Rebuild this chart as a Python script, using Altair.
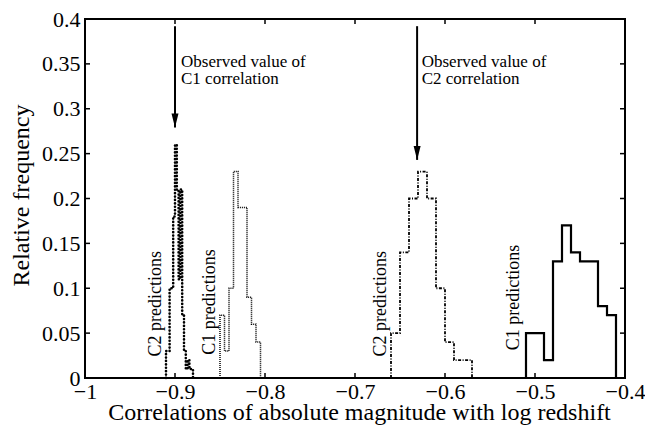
import altair as alt
import pandas as pd

# ---------------- data ----------------
# C2 predictions of the C1 correlation (heavy dotted, near -0.9)
c2a_edges = [-0.910, -0.908, -0.906, -0.904, -0.902, -0.900, -0.898, -0.896,
             -0.894, -0.892, -0.890, -0.888, -0.886, -0.884, -0.882, -0.880]
c2a_freq = [0.03, 0.03, 0.10, 0.10, 0.18, 0.26, 0.21, 0.11, 0.21, 0.07,
            0.03, 0.01, 0.02, 0.01, 0.01]

# C1 predictions of the C1 correlation (fine dotted, near -0.83)
c1a_edges = [-0.850, -0.845, -0.840, -0.835, -0.830, -0.825, -0.820,
             -0.815, -0.810, -0.805]
c1a_freq = [0.07, 0.03, 0.10, 0.23, 0.19, 0.19, 0.09, 0.06, 0.04]

# C2 predictions of the C2 correlation (dash-dot, near -0.63)
c2b_edges = [-0.66, -0.65, -0.64, -0.63, -0.62, -0.61, -0.60, -0.59, -0.58, -0.57]
c2b_freq = [0.05, 0.14, 0.20, 0.23, 0.20, 0.10, 0.04, 0.02, 0.02]

# C1 predictions of the C2 correlation (solid, near -0.46)
c1b_edges = [-0.51, -0.50, -0.49, -0.48, -0.47, -0.46, -0.45, -0.44,
             -0.43, -0.42, -0.41]
c1b_freq = [0.05, 0.05, 0.02, 0.13, 0.17, 0.14, 0.13, 0.13, 0.08, 0.07]

# observed values (arrows)
arrow_x = [-0.900, -0.631]
arrow_top = [0.392, 0.392]
arrow_tip = [0.279, 0.243]

# annotation texts (two lines each)
annot_x = [-0.8933, -0.6259]
annot_y = [0.3465, 0.3465]
annot_text = ["Observed value of\nC1 correlation",
              "Observed value of\nC2 correlation"]

pred_x = [-0.9160, -0.8560, -0.6660, -0.5180]
pred_y = [0.024, 0.026, 0.024, 0.031]
pred_text = ["C2 predictions", "C1 predictions", "C2 predictions", "C1 predictions"]

x_ticks = [-1.0, -0.9, -0.8, -0.7, -0.6, -0.5, -0.4]
y_ticks = [0, 0.05, 0.1, 0.15, 0.2, 0.25, 0.3, 0.35, 0.4]

x_title = "Correlations of absolute magnitude with log redshift"
y_title = "Relative frequency"

# ---------------- build tables ----------------
def hist_df(edges, freq):
    xs_ = [edges[0]] + list(edges[:-1]) + [edges[-1]]
    ys_ = [0.0] + list(freq) + [0.0]
    return pd.DataFrame({"x": xs_, "y": ys_, "i": list(range(len(xs_)))})

FONT = "Liberation Serif"
W, H = 540, 359

xs = alt.Scale(domain=[-1, -0.4], nice=False, zero=False)
ys = alt.Scale(domain=[0, 0.4], nice=False, zero=False)

x_axis = alt.Axis(values=x_ticks, format="~g", title=x_title, tickSize=0,
                  domain=False, grid=False, labelPadding=3, labelFlush=False,
                  labelOverlap=False, titleBaseline="top", titleY=22, titleX=274)
y_axis = alt.Axis(values=y_ticks, format="~g", title=y_title, tickSize=0,
                  domain=False, grid=False, labelPadding=5, labelFlush=False,
                  labelOverlap=False, titleBaseline="alphabetic", titleX=-57,
                  titleY=176)


def X(field):
    return alt.X(field, scale=xs, axis=x_axis, title=x_title)


def Y(field):
    return alt.Y(field, scale=ys, axis=y_axis, title=y_title)


def hist_layer(edges, freq, **style):
    return alt.Chart(hist_df(edges, freq)).mark_line(
        interpolate="step-after", color="black", **style
    ).encode(x=X("x:Q"), y=Y("y:Q"), order="i:Q")


h_c2a = hist_layer(c2a_edges, c2a_freq, strokeWidth=2.6,
                   strokeDash=[0.1, 3.3], strokeCap="round")
h_c1a = hist_layer(c1a_edges, c1a_freq, strokeWidth=1.5, strokeDash=[1, 1])
h_c2b = hist_layer(c2b_edges, c2b_freq, strokeWidth=1.8,
                   strokeDash=[3, 1.5, 1, 1.5])
h_c1b = hist_layer(c1b_edges, c1b_freq, strokeWidth=2.2)

arrows_df = pd.DataFrame({"x": arrow_x, "top": arrow_top, "tip": arrow_tip})
arrow_lines = alt.Chart(arrows_df).mark_rule(color="black", strokeWidth=2).encode(
    x=X("x:Q"), y=Y("top:Q"), y2="tip:Q",
)
arrow_heads = alt.Chart(arrows_df).mark_point(
    shape="M-0.5,-2L0.5,-2L0,0Z", filled=True, color="black", opacity=1,
    size=196, strokeWidth=0
).encode(x=X("x:Q"), y=Y("tip:Q"))

annot_df = pd.DataFrame({"x": annot_x, "y": annot_y, "t": annot_text})
annots = alt.Chart(annot_df).mark_text(
    font=FONT, fontSize=17, align="left", baseline="alphabetic", color="black",
    lineBreak="\n", lineHeight=17
).encode(x=X("x:Q"), y=Y("y:Q"), text="t:N")

pred_df = pd.DataFrame({"x": pred_x, "y": pred_y, "t": pred_text})
preds = alt.Chart(pred_df).mark_text(
    font=FONT, fontSize=18, align="left", baseline="alphabetic", angle=270,
    color="black"
).encode(x=X("x:Q"), y=Y("y:Q"), text="t:N")

# inward ticks on all four sides
xt_df = pd.DataFrame({"x": x_ticks})
yt_df = pd.DataFrame({"y": y_ticks})
TL = 5
tick_bottom = alt.Chart(xt_df).mark_rule(color="black", strokeWidth=1.5).encode(
    x=X("x:Q"), y=alt.value(H), y2=alt.value(H - TL))
tick_top = alt.Chart(xt_df).mark_rule(color="black", strokeWidth=1.5).encode(
    x=X("x:Q"), y=alt.value(0), y2=alt.value(TL))
tick_left = alt.Chart(yt_df).mark_rule(color="black", strokeWidth=1.5).encode(
    y=Y("y:Q"), x=alt.value(0), x2=alt.value(TL))
tick_right = alt.Chart(yt_df).mark_rule(color="black", strokeWidth=1.5).encode(
    y=Y("y:Q"), x=alt.value(W), x2=alt.value(W - TL))

chart = alt.layer(
    h_c2a, h_c1a, h_c2b, h_c1b, arrow_lines, arrow_heads, annots, preds,
    tick_bottom, tick_top, tick_left, tick_right,
).properties(
    width=W, height=H,
    autosize=alt.AutoSizeParams(type="none"),
    padding={"left": 77, "top": 11, "right": 20, "bottom": 48},
    background="white",
).configure_view(
    stroke="black", strokeWidth=2
).configure_axis(
    labelFont=FONT, labelFontSize=22, labelColor="black",
    titleFont=FONT, titleFontSize=24, titleFontWeight="normal",
    titleColor="black",
)

chart.save("out.html", embed_options={"renderer": "svg", "actions": False})
